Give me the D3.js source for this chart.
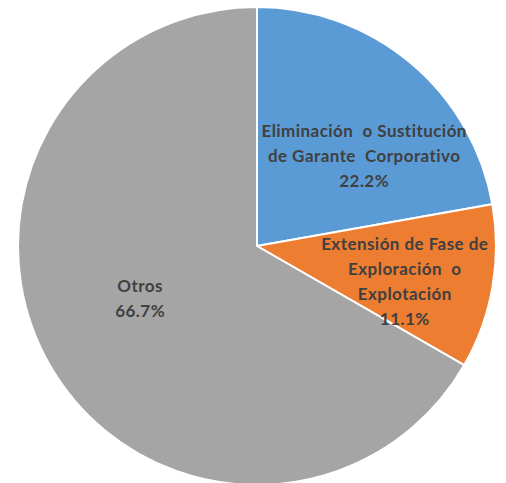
<!DOCTYPE html>
<html>
<head>
<meta charset="utf-8">
<script src="https://cdn.jsdelivr.net/npm/d3@7"></script>
<style>
  html, body { margin: 0; padding: 0; background: #fff; }
  svg { display: block; }
  .lbl { font-family: Lato, "Open Sans", sans-serif; font-weight: bold; font-size: 17px; letter-spacing: 0.45px; fill: #404040; white-space: pre; }
</style>
</head>
<body>
<svg id="chart"></svg>
<script>
// slice data
const categories = ["Eliminación  o Sustitución de Garante Corporativo", "Extensión de Fase de Exploración  o Explotación", "Otros"];
const values = [22.2, 11.1, 66.7];
const colors = ["#5B9BD5", "#ED7D31", "#A5A5A5"];
// label text broken into lines as in the original
const labelLines = [
    ["Eliminación  o Sustitución", "de Garante  Corporativo"],
    ["Extensión de Fase de", "Exploración  o", "Explotación"],
    ["Otros"]
];

const width = 506, height = 483;
const cx = 257, cy = 246, radius = 239;

const svg = d3.select("#chart")
    .attr("width", width)
    .attr("height", height);

const g = svg.append("g").attr("transform", `translate(${cx},${cy})`);

const pie = d3.pie().sort(null).value(d => d)(values);
const arc = d3.arc().innerRadius(0).outerRadius(radius);

g.selectAll("path.slice")
    .data(pie)
    .enter()
    .append("path")
    .attr("class", "slice")
    .attr("d", arc)
    .attr("fill", (d, i) => colors[i])
    .attr("stroke", "#fff")
    .attr("stroke-width", 2);

// label placement: radius and angle nudge for each slice (excel puts them a bit off the centroid)
const labelRadius = [140, 152, 128];
const angleShift = [10, 3.7, 6];
const lineH = 25;

pie.forEach((d, i) => {
    const a = (d.startAngle + d.endAngle) / 2 + angleShift[i] * Math.PI / 180;
    const x = Math.sin(a) * labelRadius[i];
    const y = -Math.cos(a) * labelRadius[i];
    const lines = labelLines[i].concat([d3.format(".1f")(values[i]) + "%"]);
    const top = y - (lines.length - 1) * lineH / 2;
    const t = g.append("text")
        .attr("class", "lbl")
        .attr("text-anchor", "middle");
    lines.forEach((s, k) => {
        t.append("tspan")
            .attr("x", x)
            .attr("y", top + k * lineH)
            .attr("dy", "0.35em")
            .text(s);
    });
});
</script>
</body>
</html>
